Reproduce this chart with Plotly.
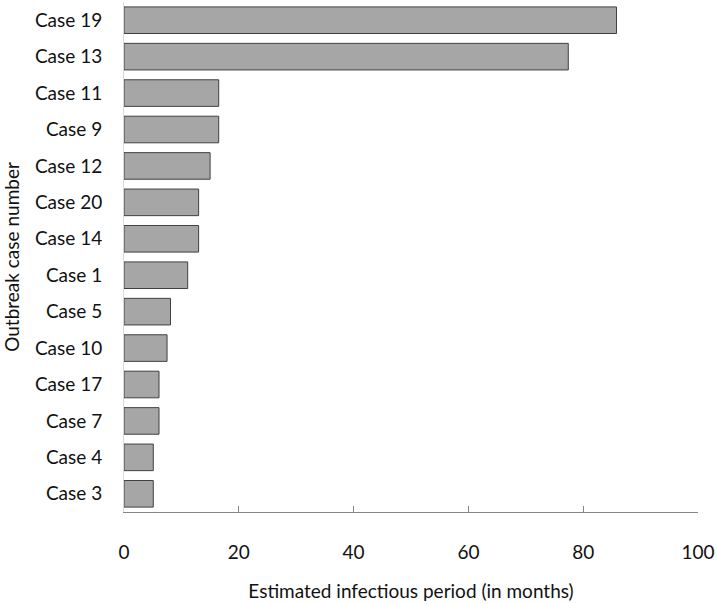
import plotly.graph_objects as go

cases = ["Case 19", "Case 13", "Case 11", "Case 9", "Case 12", "Case 20", "Case 14",
         "Case 1", "Case 5", "Case 10", "Case 17", "Case 7", "Case 4", "Case 3"]
months = [85.8, 77.4, 16.5, 16.5, 15.0, 13.0, 13.0, 11.1, 8.1, 7.5, 6.1, 6.1, 5.1, 5.1]
x_ticks = [0, 20, 40, 60, 80, 100]

FONT = "Lato"

fig = go.Figure(go.Bar(
    x=months, y=cases, orientation="h",
    marker=dict(color="#a6a6a6", line=dict(color="#404040", width=1)),
))

fig.update_layout(
    width=717, height=604,
    margin=dict(l=124, r=17, t=2, b=92),
    paper_bgcolor="white", plot_bgcolor="white",
    font=dict(family=FONT, size=19, color="#111111"),
    bargap=0.27,
    showlegend=False,
)
fig.update_xaxes(
    range=[0, 100], tickvals=x_ticks, ticktext=[str(v) for v in x_ticks],
    showgrid=False, zeroline=False,
    showline=True, linecolor="#868686", linewidth=1,
    ticks="inside", ticklen=6, tickcolor="#868686",
    ticklabelstandoff=23,
    title=dict(text="Estimated infectious period (in months)", standoff=22,
               font=dict(size=19)),
)
fig.update_yaxes(
    categoryorder="array", categoryarray=cases, autorange="reversed",
    showgrid=False, zeroline=False,
    showline=True, linecolor="#d9d9d9", linewidth=1,
    ticks="", ticklabelstandoff=17,
    title=dict(text="Outbreak case number", standoff=11, font=dict(size=19)),
)

fig.write_html(
    "out.html",
    config={"displayModeBar": False},
    post_script="document.body.style.margin='0';document.body.style.padding='0';",
)
